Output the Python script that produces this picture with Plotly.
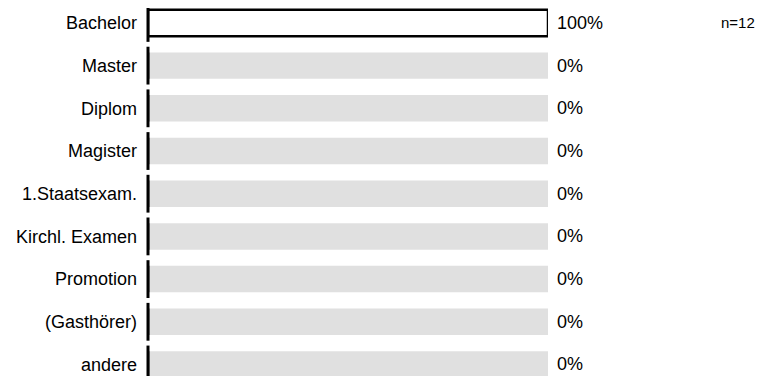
import plotly.graph_objects as go

categories = ["Bachelor", "Master", "Diplom", "Magister", "1.Staatsexam.",
              "Kirchl. Examen", "Promotion", "(Gasthörer)", "andere"]
values = [100, 0, 0, 0, 0, 0, 0, 0, 0]
full_scale = [100] * len(categories)
n_label = "n=12"

FONT = "Liberation Sans, Arial, sans-serif"

fig = go.Figure()
# grey background track
fig.add_trace(go.Bar(
    y=categories, x=full_scale, orientation="h",
    marker=dict(color="#e0e0e0", line=dict(width=0)),
    hoverinfo="skip", showlegend=False,
))
# value bars
fig.add_trace(go.Bar(
    y=categories, x=values, orientation="h",
    marker=dict(color="white", line=dict(color="black", width=2.5)),
    showlegend=False,
))
# zero baseline tick for each bar
fig.add_trace(go.Scatter(
    y=categories, x=[0] * len(categories), mode="markers",
    marker=dict(symbol="line-ns", size=27, line=dict(color="black", width=3)),
    hoverinfo="skip", showlegend=False, cliponaxis=False,
))

for cat, v, fs in zip(categories, values, full_scale):
    fig.add_annotation(x=fs, y=cat, xref="x", yref="y", text=f"{v}%",
                       showarrow=False, xanchor="left", xshift=7,
                       font=dict(family=FONT, size=18, color="black"))

fig.add_annotation(x=1.4275, y=categories[0], xref="paper", yref="y",
                   text=n_label, showarrow=False, xanchor="left",
                   font=dict(family=FONT, size=15, color="black"))

fig.update_layout(
    width=765, height=368,
    margin=dict(l=140, r=225, t=0, b=0),
    paper_bgcolor="white", plot_bgcolor="white",
    barmode="overlay", bargap=0.38,
    font=dict(family=FONT, size=18, color="black"),
    xaxis=dict(range=[0, 100], visible=False, fixedrange=True),
    yaxis=dict(categoryorder="array", categoryarray=categories,
               range=[8.27, -0.35], showgrid=False, zeroline=False,
               showline=False, ticks="", ticklabelstandoff=10,
               tickfont=dict(family=FONT, size=18, color="black"),
               fixedrange=True),
)

fig.write_html("out.html")
